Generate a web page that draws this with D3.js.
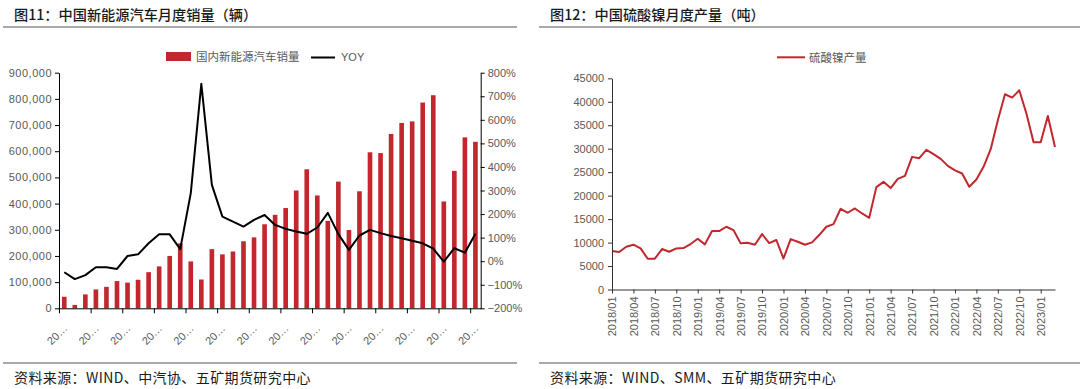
<!DOCTYPE html>
<html>
<head>
<meta charset="utf-8">
<script src="https://cdn.jsdelivr.net/npm/d3@7"></script>
<style>
  body { margin: 0; background: #fff; }
  svg text { font-family: 'Liberation Sans', Arial, sans-serif; }
  .cjk { font-family: 'Noto Sans CJK SC', sans-serif; }
</style>
</head>
<body>
<svg id="chart" width="1080" height="389"></svg>
<script>
// 图11 data: NEV monthly sales (units) and YOY (%), 2020/01 - 2023/04
let nevMonths = [
  '2020/01', '2020/02', '2020/03', '2020/04', '2020/05', '2020/06', '2020/07', '2020/08', '2020/09', '2020/10', '2020/11', '2020/12',
  '2021/01', '2021/02', '2021/03', '2021/04', '2021/05', '2021/06', '2021/07', '2021/08', '2021/09', '2021/10', '2021/11', '2021/12',
  '2022/01', '2022/02', '2022/03', '2022/04', '2022/05', '2022/06', '2022/07', '2022/08', '2022/09', '2022/10', '2022/11', '2022/12',
  '2023/01', '2023/02', '2023/03', '2023/04'
]
let nevSales = [
  44000, 13000, 53000, 72000, 82000, 104000, 98000, 109000, 138000, 160000, 200000, 248000,
  179000, 110000, 226000, 206000, 217000, 256000, 271000, 321000, 357000, 383000, 450000, 531000,
  431000, 334000, 484000, 299000, 447000, 596000, 593000, 666000, 708000, 714000, 786000, 814000,
  408000, 525000, 653000, 636000
]
let nevYoy = [
  -47, -76, -59, -26, -26, -33, 22, 29, 76, 114, 114, 51,
  289, 753, 324, 189, 168, 147, 175, 196, 154, 137, 126, 116,
  143, 205, 115, 48, 109, 133, 119, 107, 97, 87, 76, 53,
  -2, 55, 36, 116
]
let salesTicks = [0, 100000, 200000, 300000, 400000, 500000, 600000, 700000, 800000, 900000]
let yoyTicks = [-200, -100, 0, 100, 200, 300, 400, 500, 600, 700, 800]

// 图12 data: nickel sulphate monthly output (t), 2018/01 - 2023/03
let niMonths = [
  '2018/01', '2018/02', '2018/03', '2018/04', '2018/05', '2018/06', '2018/07', '2018/08', '2018/09', '2018/10', '2018/11', '2018/12',
  '2019/01', '2019/02', '2019/03', '2019/04', '2019/05', '2019/06', '2019/07', '2019/08', '2019/09', '2019/10', '2019/11', '2019/12',
  '2020/01', '2020/02', '2020/03', '2020/04', '2020/05', '2020/06', '2020/07', '2020/08', '2020/09', '2020/10', '2020/11', '2020/12',
  '2021/01', '2021/02', '2021/03', '2021/04', '2021/05', '2021/06', '2021/07', '2021/08', '2021/09', '2021/10', '2021/11', '2021/12',
  '2022/01', '2022/02', '2022/03', '2022/04', '2022/05', '2022/06', '2022/07', '2022/08', '2022/09', '2022/10', '2022/11', '2022/12',
  '2023/01', '2023/02', '2023/03'
]
let niOutput = [
  8190, 7980, 9110, 9540, 8760, 6560, 6560, 8620, 8050, 8760, 8830, 9680,
  10820, 9610, 12450, 12450, 13370, 12660, 9830, 9960, 9540, 11810, 9890, 10550,
  6600, 10740, 10170, 9540, 10040, 11600, 13370, 13940, 17200, 16350, 17270, 16200,
  15280, 21810, 22940, 21600, 23580, 24220, 28260, 27980, 29750, 28830, 27830, 26340,
  25400, 24720, 21880, 23450, 26130, 29890, 36060, 41600, 40890, 42450, 37490, 31380,
  31380, 36980, 30380
]
let niTicks = [0, 5000, 10000, 15000, 20000, 25000, 30000, 35000, 40000, 45000]

var red = '#c1272d'
var labelGray = '#595959'
var svg = d3.select('#chart')

// titles, rules and source notes
function panelFrame (x0, x1, title, source) {
  svg.append('text').attr('class', 'cjk')
    .attr('x', x0 + 11).attr('y', 19.5)
    .attr('font-size', '14.2px').attr('font-weight', 500).attr('fill', '#1a1a1a')
    .text(title)
  svg.append('line')
    .attr('x1', x0).attr('x2', x1).attr('y1', 27).attr('y2', 27)
    .attr('stroke', '#555').attr('stroke-width', 1.2)
  svg.append('line')
    .attr('x1', x0).attr('x2', x1).attr('y1', 363).attr('y2', 363)
    .attr('stroke', '#555').attr('stroke-width', 1.2)
  svg.append('text').attr('class', 'cjk')
    .attr('x', x0 + 11).attr('y', 383)
    .attr('font-size', '14px').attr('letter-spacing', '0.4px').attr('fill', '#1a1a1a')
    .text(source)
}
panelFrame(3, 517, '图11：中国新能源汽车月度销量（辆）', '资料来源：WIND、中汽协、五矿期货研究中心')
panelFrame(539, 1080, '图12：中国硫酸镍月度产量（吨）', '资料来源：WIND、SMM、五矿期货研究中心')

function styleAxis (g, color) {
  g.select('.domain').attr('stroke', color)
  g.selectAll('.tick line').attr('stroke', color)
  g.selectAll('.tick text').attr('fill', labelGray).attr('font-size', '11px')
}

// ---------- left chart ----------
var lx0 = 59
var lx1 = 480.7
var lyTop = 72.7
var lyBot = 308.3

var xBand = d3.scaleBand()
  .domain(nevMonths)
  .range([lx0, lx1])
  .paddingInner(0.56)
  .paddingOuter(0.28)

var xSlot = d3.scaleLinear()
  .domain([0, nevMonths.length])
  .range([lx0, lx1])

var ySales = d3.scaleLinear()
  .domain([0, 900000])
  .range([lyBot, lyTop])

var yYoy = d3.scaleLinear()
  .domain([-200, 800])
  .range([lyBot, lyTop])

svg.selectAll('rect.sales')
  .data(nevSales)
  .enter()
  .append('rect')
  .attr('class', 'sales')
  .attr('x', function (d, i) { return xBand(nevMonths[i]) })
  .attr('y', function (d) { return ySales(d) })
  .attr('width', xBand.bandwidth())
  .attr('height', function (d) { return lyBot - ySales(d) })
  .attr('fill', red)

var yoyLine = d3.line()
  .x(function (d, i) { return xBand(nevMonths[i]) + xBand.bandwidth() / 2 })
  .y(function (d) { return yYoy(d) })

svg.append('path')
  .datum(nevYoy)
  .attr('d', yoyLine)
  .attr('fill', 'none')
  .attr('stroke', '#000')
  .attr('stroke-width', 2)
  .attr('stroke-linejoin', 'round')

var gLeft = svg.append('g')
  .attr('transform', 'translate(' + lx0 + ',0)')
  .call(d3.axisLeft(ySales).tickValues(salesTicks).tickSize(4).tickSizeOuter(0).tickPadding(3)
    .tickFormat(d3.format(',')))
styleAxis(gLeft, '#000')
gLeft.selectAll('.tick text').attr('letter-spacing', '0.5px')

var gRight = svg.append('g')
  .attr('transform', 'translate(' + lx1 + ',0)')
  .call(d3.axisRight(yYoy).tickValues(yoyTicks).tickSize(4).tickSizeOuter(0).tickPadding(3)
    .tickFormat(function (d) { return d3.format('d')(d) + '%' }))
styleAxis(gRight, '#000')

// bottom axis: marks between every third month, labels under the month
var slotTicks = d3.range(0, nevMonths.length, 3)
var gBottom = svg.append('g')
  .attr('transform', 'translate(0,' + lyBot + ')')
  .call(d3.axisBottom(xSlot).tickValues(slotTicks).tickSize(5).tickSizeOuter(0).tickFormat(''))
styleAxis(gBottom, '#000')

var gBottomLabels = svg.append('g')
  .attr('transform', 'translate(0,' + lyBot + ')')
  .call(d3.axisBottom(xBand).tickValues(slotTicks.map(i => nevMonths[i])).tickSize(0)
    .tickFormat(function (m) { return m.slice(0, 2) + '…' }))
gBottomLabels.select('.domain').remove()
gBottomLabels.selectAll('.tick text')
  .attr('fill', labelGray)
  .attr('font-size', '11px')
  .attr('text-anchor', 'end')
  .attr('x', 0)
  .attr('y', 0)
  .attr('dy', '0.35em')
  .attr('transform', 'translate(1,18) rotate(-45)')

// legend
svg.append('rect').attr('x', 166).attr('y', 52).attr('width', 25).attr('height', 9).attr('fill', red)
svg.append('text').attr('class', 'cjk')
  .attr('x', 196).attr('y', 61).attr('font-size', '11.5px').attr('fill', labelGray)
  .text('国内新能源汽车销量')
svg.append('line').attr('x1', 311).attr('x2', 335).attr('y1', 57.5).attr('y2', 57.5)
  .attr('stroke', '#000').attr('stroke-width', 2)
svg.append('text')
  .attr('x', 341).attr('y', 61).attr('font-size', '11px').attr('fill', labelGray)
  .text('YOY')

// ---------- right chart ----------
var rx0 = 612
var rx1 = 1055
var ryTop = 78.3
var ryBot = 289.5

var xNi = d3.scalePoint()
  .domain(niMonths)
  .range([rx0, rx1])

var yNi = d3.scaleLinear()
  .domain([0, 45000])
  .range([ryBot, ryTop])

var niLine = d3.line()
  .x(function (d, i) { return xNi(niMonths[i]) })
  .y(function (d) { return yNi(d) })

svg.append('path')
  .datum(niOutput)
  .attr('d', niLine)
  .attr('fill', 'none')
  .attr('stroke', red)
  .attr('stroke-width', 2)
  .attr('stroke-linejoin', 'round')

var gNiY = svg.append('g')
  .attr('transform', 'translate(' + rx0 + ',0)')
  .call(d3.axisLeft(yNi).tickValues(niTicks).tickSize(4).tickSizeOuter(0).tickPadding(4)
    .tickFormat(d3.format('d')))
styleAxis(gNiY, '#333')

var gNiX = svg.append('g')
  .attr('transform', 'translate(0,' + ryBot + ')')
  .call(d3.axisBottom(xNi).tickValues(niMonths.filter((m, i) => i % 3 === 0)).tickSize(4).tickSizeOuter(0))
styleAxis(gNiX, '#333')
gNiX.selectAll('.tick text')
  .attr('text-anchor', 'end')
  .attr('dy', '0.35em')
  .attr('transform', 'translate(0,7) rotate(-90)')
  .attr('y', 0)
  .attr('x', 0)

// legend
svg.append('line').attr('x1', 777).attr('x2', 805).attr('y1', 57.3).attr('y2', 57.3)
  .attr('stroke', red).attr('stroke-width', 2)
svg.append('text').attr('class', 'cjk')
  .attr('x', 809).attr('y', 61.5).attr('font-size', '11.5px').attr('fill', labelGray)
  .text('硫酸镍产量')
</script>
</body>
</html>
